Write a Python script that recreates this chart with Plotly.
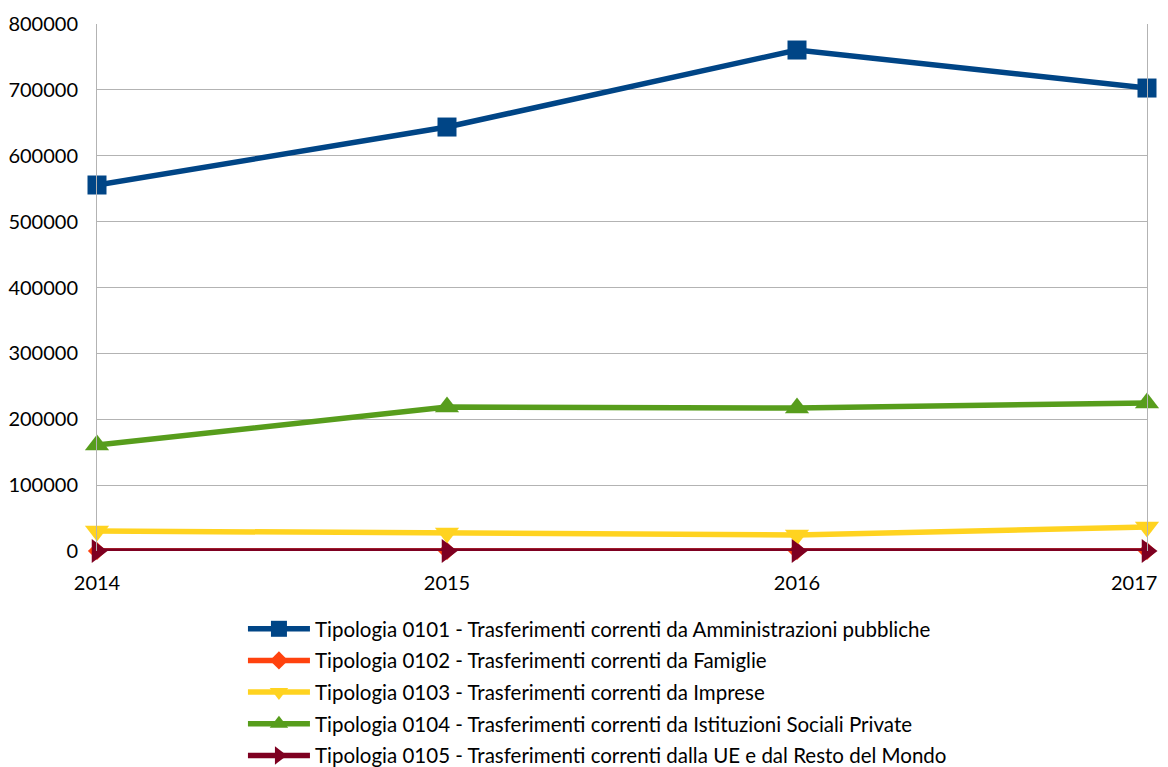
import plotly.graph_objects as go

years = ["2014", "2015", "2016", "2017"]
names = [
    "Tipologia 0101 - Trasferimenti correnti da Amministrazioni pubbliche",
    "Tipologia 0102 - Trasferimenti correnti da Famiglie",
    "Tipologia 0103 - Trasferimenti correnti da Imprese",
    "Tipologia 0104 - Trasferimenti correnti da Istituzioni Sociali Private",
    "Tipologia 0105 - Trasferimenti correnti dalla UE e dal Resto del Mondo",
]
v0101 = [555600, 643600, 760500, 702800]
v0102 = [0, 0, 0, 0]
v0103 = [30400, 27300, 24300, 36400]
v0104 = [160900, 218600, 217100, 224700]
v0105 = [0, 0, 0, 0]
y_ticks = [0, 100000, 200000, 300000, 400000, 500000, 600000, 700000, 800000]

series = [v0101, v0102, v0103, v0104, v0105]
colors = ["#004586", "#ff420e", "#ffd320", "#579d1c", "#7e0021"]
symbols = ["square", "diamond", "triangle-down", "triangle-up", "triangle-right"]
sizes = [19, 14, 21, 21, 21]

fig = go.Figure()
xs = list(range(len(years)))
for i, (nm, vals) in enumerate(zip(names, series)):
    fig.add_trace(go.Scatter(
        x=xs, y=vals, name=nm, mode="lines+markers",
        line=dict(color=colors[i], width=5.5),
        marker=dict(symbol=symbols[i], size=sizes[i], color=colors[i]),
        cliponaxis=False, legendgroup=f"g{i}",
    ))

# last category label is drawn as an annotation so it stays inside the page edge
tick_labels = years[:-1] + [""]

font = "Lato, 'Open Sans', sans-serif"
fig.add_annotation(x=xs[-1], y=0, xref="x", yref="paper", text=years[-1],
                   showarrow=False, xanchor="right", yanchor="middle",
                   xshift=12, yshift=-31, font=dict(family=font, size=20, color="#000000"))

fig.update_layout(
    width=1160, height=759,
    margin=dict(l=89, r=21, t=16, b=216, autoexpand=False),
    plot_bgcolor="white", paper_bgcolor="white",
    font=dict(family=font, size=20, color="#000000"),
    showlegend=True,
    legend=dict(x=0.139, y=-0.11, xanchor="left", yanchor="top",
                font=dict(size=20.5, family=font), tracegroupgap=2,
                itemwidth=62, bgcolor="rgba(0,0,0,0)", maxheight=300),
    xaxis=dict(range=[0, 3], tickvals=xs, ticktext=tick_labels, showgrid=False,
               zeroline=False, showline=False, ticks="", ticklabelstandoff=18,
               ticklabeloverflow="allow"),
    yaxis=dict(range=[0, 800000], tickvals=y_ticks, tickformat="d",
               showgrid=True, gridcolor="#b3b3b3", gridwidth=1, zeroline=False,
               showline=True, linecolor="#b3b3b3", linewidth=1, mirror=True,
               ticks="", ticklabelstandoff=14),
)

fig.write_html("out.html")
